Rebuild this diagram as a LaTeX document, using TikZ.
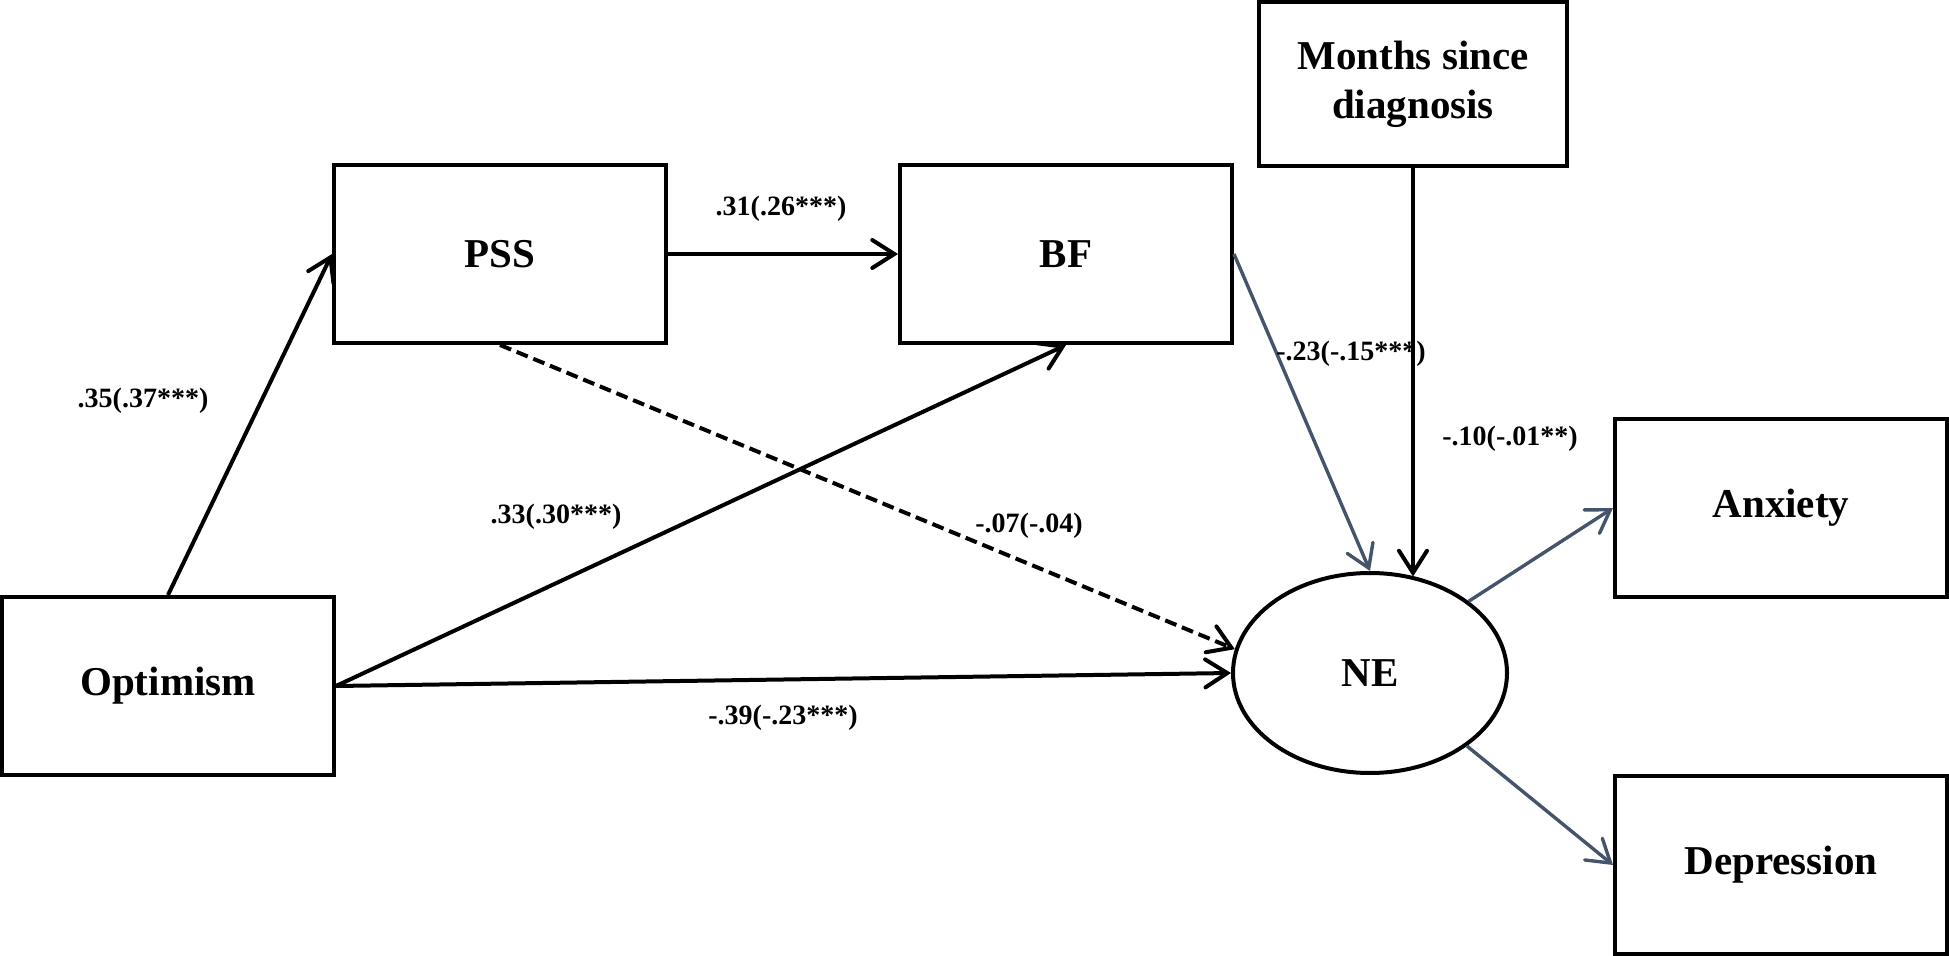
\documentclass[tikz,border=0pt]{standalone}
\usepackage{fontspec}
\setmainfont{Liberation Serif}
\usetikzlibrary{arrows.meta,positioning,shapes.geometric}
\definecolor{slate}{RGB}{68,84,106}

\begin{document}
\begin{tikzpicture}[x=0.5pt,y=-0.5pt,
        var/.style={draw, line width=2pt, minimum width=166pt, minimum height=89pt, inner sep=0pt, font=\fontsize{20.5}{24.5}\selectfont\bfseries},
        lat/.style={draw, ellipse, line width=2pt, minimum width=137pt, minimum height=100pt, inner sep=0pt, font=\fontsize{20.5}{24.5}\selectfont\bfseries},
        coef/.style={font=\fontsize{14}{16}\selectfont\bfseries},
        path/.style={line width=2pt, -{Straight Barb[length=11pt,width=14pt,line cap=round]}},
        gpath/.style={path, line width=1.7pt, slate}]
        \useasboundingbox (0,0) rectangle (1949,956);
        % variables
        \node[var] (opt) at (168,686) {Optimism};
        \node[var] (pss) at (500,254) {PSS};
        \node[var] (bf) at (1066,254) {BF};
        \node[var, minimum width=154pt, minimum height=82pt, align=center] (months) at (1413,84) {Months since\\diagnosis};
        \node[lat] (ne) at (1370,673) {NE};
        \node[var] (anx) at (1781,508) {Anxiety};
        \node[var] (dep) at (1781,865) {Depression};
        % paths
        \draw[path] (opt.north) -- (pss.west);
        \draw[path] (pss) -- (bf);
        \draw[path] (opt.east) -- (bf.south);
        \draw[path] (opt.east) -- (ne.west);
        \draw[path, dash pattern=on 6pt off 3pt] (pss.south) -- (ne.170);
        \draw[gpath] (bf.east) -- (ne.north);
        \draw[path] (months.south) -- (months.south |- ne.65);
        \draw[gpath] (ne.36) -- (anx.west);
        \draw[gpath] (ne.-37) -- (dep.west);
        % coefficients
        \node[coef] (cOptPss) at (143,401) {.35(.37***)};
        \node[coef] (cPssBf) at (781,209) {.31(.26***)};
        \node[coef] (cOptBf) at (556,517) {.33(.30***)};
        \node[coef] (cPssNe) at (1029,526) {-.07(-.04)};
        \node[coef] (cOptNe) at (783,718) {-.39(-.23***)};
        \node[coef] (cBfNe) at (1351,354) {-.23(-.15***)};
        \node[coef] (cMonNe) at (1510,439) {-.10(-.01**)};
\end{tikzpicture}
\end{document}
